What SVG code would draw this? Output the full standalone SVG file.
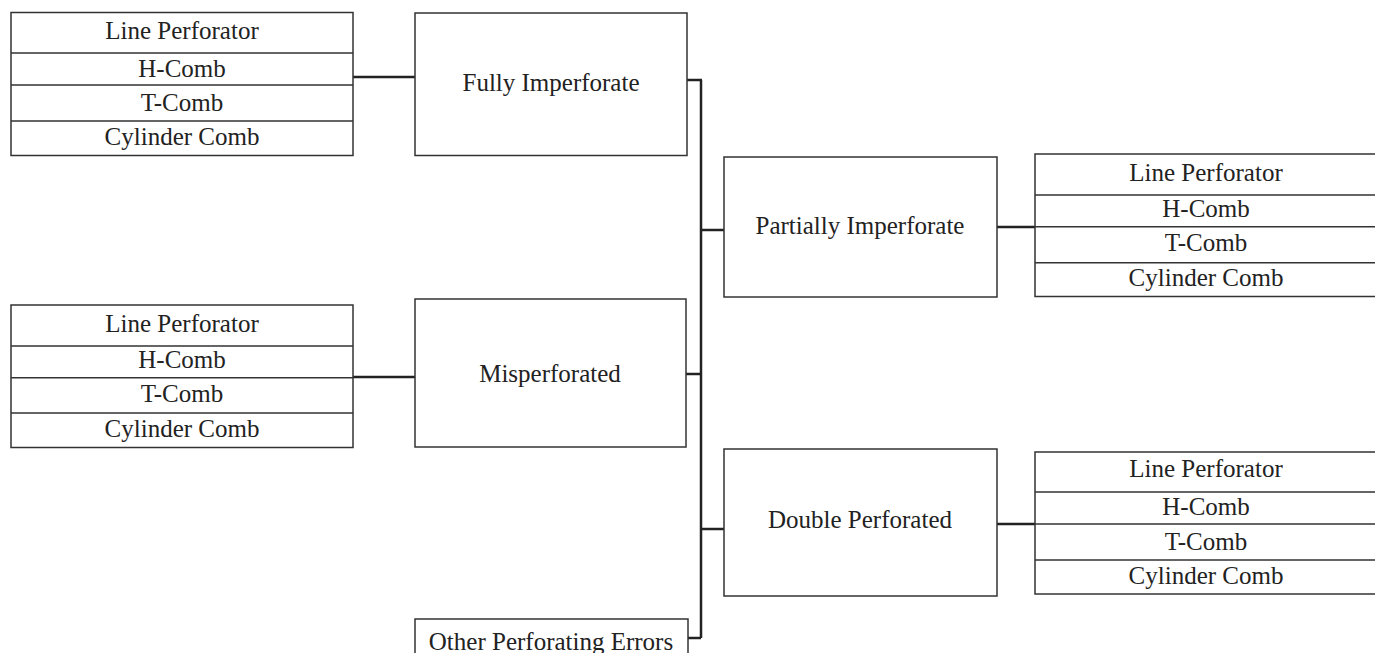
<svg xmlns="http://www.w3.org/2000/svg" width="1375" height="653" viewBox="0 0 1375 653">
<style>
.box{fill:#fff;stroke:#333;stroke-width:1.5}
.div{stroke:#333;stroke-width:1.5}
text{font-family:"Liberation Serif","Times New Roman",serif;font-size:25px;fill:#222;text-anchor:middle}
#connectors path{fill:none;stroke:#222;stroke-width:2.5}
</style>
<rect width="1375" height="653" fill="#fff"/>
<g id="connectors">
<path d="M701,80 V638"/>
<path d="M687,80 H702"/>
<path d="M701,230 H724"/>
<path d="M686,374 H701"/>
<path d="M701,529 H724"/>
<path d="M688,638 H701"/>
<path d="M353,77 H415"/>
<path d="M353,377 H415"/>
<path d="M997,227 H1035"/>
<path d="M997,524 H1035"/>
</g>
<g id="table-fully">
<rect class="box" x="11" y="12.5" width="342" height="143"/>
<path class="div" d="M11,53H353M11,85H353M11,121H353"/>
<text x="182" y="39">Line Perforator</text>
<text x="182" y="77">H-Comb</text>
<text x="182" y="111">T-Comb</text>
<text x="182" y="145">Cylinder Comb</text>
</g>
<g id="fully-imperforate">
<rect class="box" x="415" y="13" width="272" height="142.5"/>
<text x="551" y="91">Fully Imperforate</text>
</g>
<g id="partially-imperforate">
<rect class="box" x="724" y="157" width="273" height="140"/>
<text x="860" y="234">Partially Imperforate</text>
</g>
<g id="table-partially">
<rect class="box" x="1035" y="154" width="342" height="142.5"/>
<path class="div" d="M1035,195H1377M1035,226.7H1377M1035,262.7H1377"/>
<text x="1206" y="181">Line Perforator</text>
<text x="1206" y="217">H-Comb</text>
<text x="1206" y="251">T-Comb</text>
<text x="1206" y="286">Cylinder Comb</text>
</g>
<g id="table-misperforated">
<rect class="box" x="11" y="305" width="342" height="142.5"/>
<path class="div" d="M11,346H353M11,377.7H353M11,413H353"/>
<text x="182" y="332">Line Perforator</text>
<text x="182" y="368">H-Comb</text>
<text x="182" y="402">T-Comb</text>
<text x="182" y="437">Cylinder Comb</text>
</g>
<g id="misperforated">
<rect class="box" x="415" y="299" width="271" height="148"/>
<text x="550" y="382">Misperforated</text>
</g>
<g id="double-perforated">
<rect class="box" x="724" y="449" width="273" height="147"/>
<text x="860" y="528">Double Perforated</text>
</g>
<g id="table-double">
<rect class="box" x="1035" y="452" width="342" height="142"/>
<path class="div" d="M1035,492H1377M1035,524H1377M1035,560H1377"/>
<text x="1206" y="477">Line Perforator</text>
<text x="1206" y="515">H-Comb</text>
<text x="1206" y="550">T-Comb</text>
<text x="1206" y="584">Cylinder Comb</text>
</g>
<g id="other-errors">
<rect class="box" x="415" y="619" width="273" height="40"/>
<text x="551" y="650">Other Perforating Errors</text>
</g>
</svg>
